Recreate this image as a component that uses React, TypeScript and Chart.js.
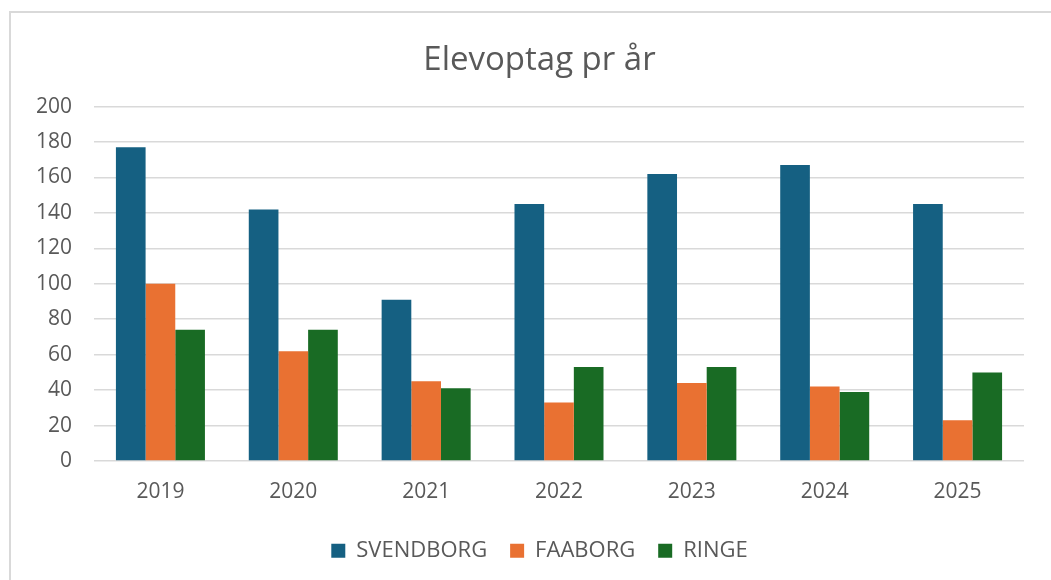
import React, { useEffect, useRef } from "react";
import { Chart, registerables } from "chart.js";

Chart.register(...registerables);

const title = "Elevoptag pr år";
const years = ["2019", "2020", "2021", "2022", "2023", "2024", "2025"];
const svendborg = [177, 142, 91, 145, 162, 167, 145];
const faaborg = [100, 62, 45, 33, 44, 42, 23];
const ringe = [74, 74, 41, 53, 53, 39, 50];
const seriesNames = ["SVENDBORG", "FAABORG", "RINGE"];
const seriesColors = ["#156082", "#E97132", "#196B24"];

const FONT = "'Open Sans', sans-serif";
const TEXT = "#595959";

const framePlugin = {
  id: "frame",
  beforeDraw(chart: any) {
    const ctx = chart.ctx;
    ctx.save();
    ctx.fillStyle = "#ffffff";
    ctx.fillRect(0, 0, chart.width, chart.height);
    ctx.strokeStyle = "#d9d9d9";
    ctx.lineWidth = 2;
    ctx.strokeRect(10, 12, chart.width + 50, chart.height + 50);
    ctx.restore();
  },
};

export default function App() {
  const ref = useRef<HTMLCanvasElement | null>(null);

  useEffect(() => {
    document.body.style.margin = "0";
    const canvas = ref.current;
    if (!canvas) return;
    const values = [svendborg, faaborg, ringe];
    const chart = new Chart(canvas, {
      type: "bar",
      data: {
        labels: years,
        datasets: seriesNames.map((name, i) => ({
          label: name,
          data: values[i],
          backgroundColor: seriesColors[i],
          borderWidth: 0,
          barPercentage: 1,
          categoryPercentage: 0.67,
        })),
      },
      options: {
        responsive: false,
        animation: false,
        layout: { padding: { left: 0, right: -28, top: 0, bottom: 8.2 } },
        plugins: {
          title: {
            display: true,
            text: title,
            color: TEXT,
            font: { family: FONT, size: 33, weight: "normal" },
            padding: { top: 41, bottom: 26 },
          },
          legend: {
            position: "bottom",
            labels: {
              color: TEXT,
              font: { family: FONT, size: 22 },
              boxWidth: 14,
              boxHeight: 14,
              padding: 23,
            },
          },
          tooltip: { enabled: false },
        },
        scales: {
          x: {
            grid: { display: false, drawTicks: false },
            border: { display: false },
            ticks: {
              color: TEXT,
              font: { family: FONT, size: 21 },
              padding: 18.4,
            },
            afterFit(scale: any) {
              scale.height = 55.8;
            },
          },
          y: {
            position: "left",
            min: 0,
            max: 200,
            grid: { color: "#d9d9d9", lineWidth: 1.5, drawTicks: false },
            border: { display: false },
            ticks: {
              stepSize: 20,
              color: TEXT,
              font: { family: FONT, size: 21 },
              padding: 22,
            },
            afterFit(scale: any) {
              scale.width = 94;
            },
          },
          yRight: {
            position: "right",
            display: true,
            min: 0,
            max: 200,
            grid: { display: false, drawTicks: false },
            border: { display: false },
            ticks: { display: false },
            afterFit(scale: any) {
              scale.width = 55;
            },
          },
        },
      },
      plugins: [framePlugin],
    } as any);
    return () => chart.destroy();
  }, []);

  return (
    <div style={{ width: 1051, height: 580 }}>
      <canvas ref={ref} width={1051} height={580} />
    </div>
  );
}
